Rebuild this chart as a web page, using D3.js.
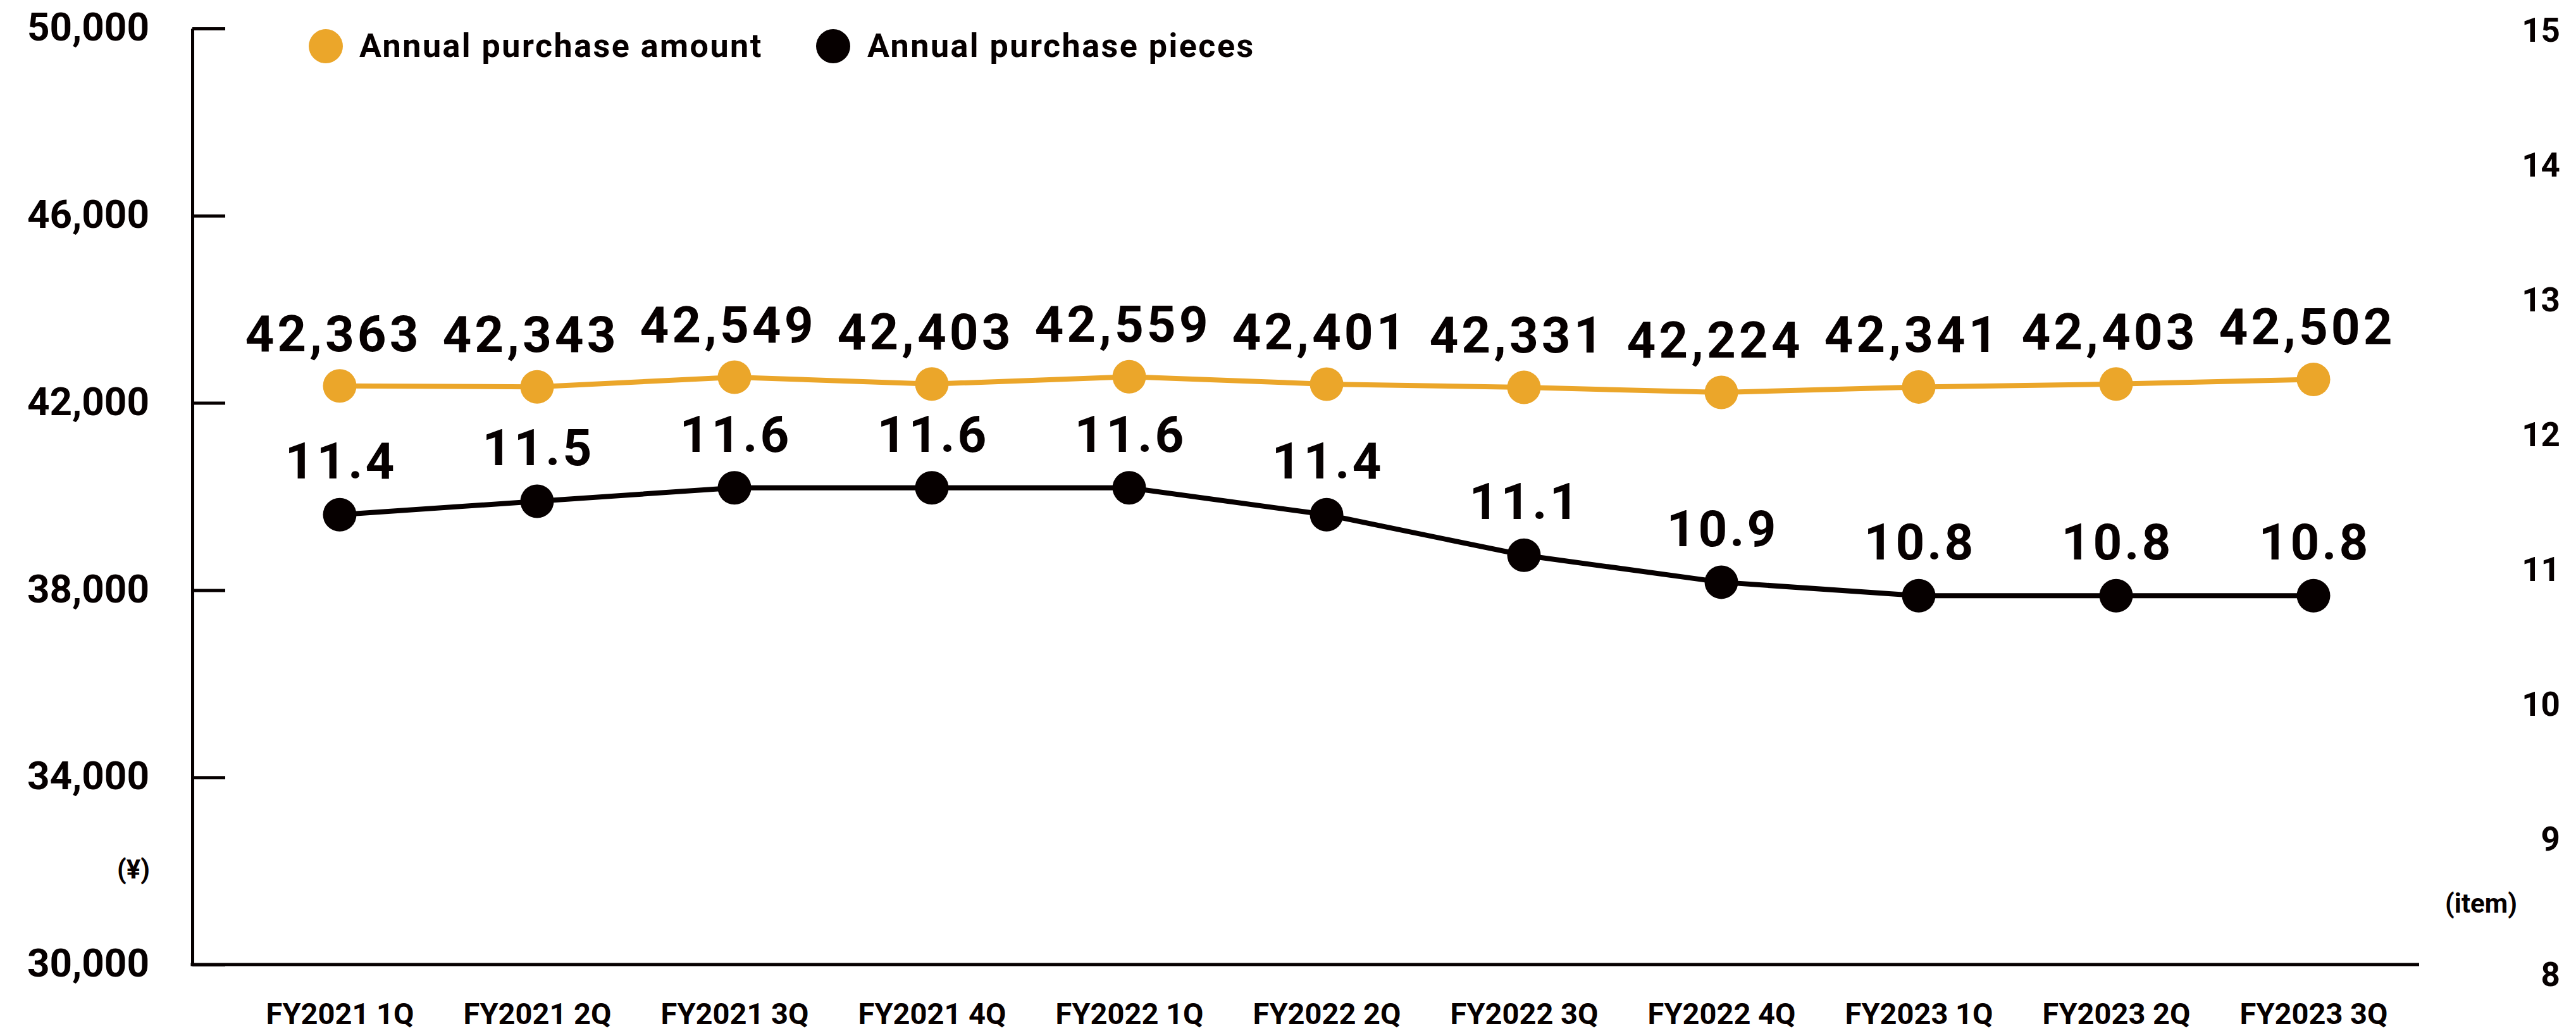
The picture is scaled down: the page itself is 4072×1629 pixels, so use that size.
<!DOCTYPE html>
<html>
<head>
<meta charset="utf-8">
<script src="https://cdn.jsdelivr.net/npm/d3@7"></script>
<style>
  html, body { margin: 0; padding: 0; background: #fff; }
  svg { display: block; font-family: Roboto, "Noto Sans", sans-serif; font-weight: 700; }
</style>
</head>
<body>
<svg id="chart" width="4072" height="1629"></svg>
<script>
const categories = ["FY2021 1Q","FY2021 2Q","FY2021 3Q","FY2021 4Q","FY2022 1Q","FY2022 2Q","FY2022 3Q","FY2022 4Q","FY2023 1Q","FY2023 2Q","FY2023 3Q"];
const purchaseAmount = [42363, 42343, 42549, 42403, 42559, 42401, 42331, 42224, 42341, 42403, 42502];
const purchasePieces = [11.4, 11.5, 11.6, 11.6, 11.6, 11.4, 11.1, 10.9, 10.8, 10.8, 10.8];
const leftTicks = [30000, 34000, 38000, 42000, 46000, 50000];
const rightTicks = [8, 9, 10, 11, 12, 13, 14, 15];
const seriesNames = ["Annual purchase amount", "Annual purchase pieces"];

const ORANGE = "#EBA62A";
const BLACK = "#060000";

const svg = d3.select("#chart");

const x = d3.scalePoint().domain(categories).range([537, 3657]);
const yL = d3.scaleLinear().domain([30000, 50000]).range([1524, 45]);
const yR = d3.scaleLinear().domain([8, 15]).range([1538, 46]);

const axisX0 = 304, axisX1 = 3824;

// left axis
const gL = svg.append("g").attr("transform", `translate(${axisX0},0)`)
  .call(d3.axisLeft(yL).tickValues(leftTicks).tickSizeInner(-52).tickSizeOuter(0).tickPadding(68)
    .tickFormat(d3.format(",")));
gL.selectAll("path.domain").attr("stroke", BLACK).attr("stroke-width", 5);
gL.selectAll(".tick line").attr("stroke", BLACK).attr("stroke-width", 5);
gL.selectAll(".tick text").attr("font-size", 62).attr("font-weight", 700).attr("fill", BLACK)
  .attr("font-family", "Roboto, sans-serif").attr("dy", "0.3em");

// bottom axis line
svg.append("line").attr("x1", axisX0 - 2.5).attr("x2", axisX1).attr("y1", yL(30000)).attr("y2", yL(30000))
  .attr("stroke", BLACK).attr("stroke-width", 5);

// bottom axis labels
const gB = svg.append("g").attr("transform", `translate(0,${yL(30000)})`)
  .call(d3.axisBottom(x).tickSize(0).tickPadding(61));
gB.select("path.domain").remove();
gB.selectAll(".tick text").attr("font-size", 47).attr("font-weight", 700).attr("fill", BLACK)
  .attr("font-family", "Roboto, sans-serif");

// right axis labels
const gR = svg.append("g").attr("transform", `translate(4047,0)`)
  .call(d3.axisRight(yR).tickValues(rightTicks).tickSize(0).tickPadding(0).tickFormat(d3.format("d")));
gR.select("path.domain").remove();
gR.selectAll(".tick text").attr("font-size", 53).attr("font-weight", 700).attr("fill", BLACK)
  .attr("text-anchor", "end").attr("font-family", "Roboto, sans-serif").attr("dy", "0.36em");

// unit labels
svg.append("text").attr("x", 237).attr("y", 1388).attr("text-anchor", "end")
  .attr("font-size", 42).attr("font-weight", 700).attr("fill", BLACK).text("(¥)");
svg.append("text").attr("x", 3922).attr("y", 1442).attr("text-anchor", "middle")
  .attr("font-size", 42).attr("font-weight", 700).attr("fill", BLACK).text("(item)");

// lines
const lineL = d3.line().x((d, i) => x(categories[i])).y(d => yL(d));
const lineR = d3.line().x((d, i) => x(categories[i])).y(d => yR(d));

svg.append("path").datum(purchaseAmount).attr("d", lineL).attr("fill", "none")
  .attr("stroke", ORANGE).attr("stroke-width", 8);
svg.append("path").datum(purchasePieces).attr("d", lineR).attr("fill", "none")
  .attr("stroke", BLACK).attr("stroke-width", 8);

svg.append("g").selectAll("circle").data(purchaseAmount).join("circle")
  .attr("cx", (d, i) => x(categories[i])).attr("cy", d => yL(d)).attr("r", 26.5).attr("fill", ORANGE);
svg.append("g").selectAll("circle").data(purchasePieces).join("circle")
  .attr("cx", (d, i) => x(categories[i])).attr("cy", d => yR(d)).attr("r", 26.5).attr("fill", BLACK);

// value labels
svg.append("g").selectAll("text").data(purchaseAmount).join("text")
  .attr("x", (d, i) => x(categories[i]) - 10).attr("y", d => yL(d) - 55)
  .attr("text-anchor", "middle").attr("font-size", 80).attr("font-weight", 700)
  .attr("letter-spacing", 5).attr("fill", BLACK).text(d => d3.format(",")(d));
svg.append("g").selectAll("text").data(purchasePieces).join("text")
  .attr("x", (d, i) => x(categories[i]) + 2).attr("y", d => yR(d) - 57)
  .attr("text-anchor", "middle").attr("font-size", 80).attr("font-weight", 700)
  .attr("letter-spacing", 4).attr("fill", BLACK).text(d => d3.format(".1f")(d));

// legend
const legend = svg.append("g");
const legendPos = [{cx: 515, tx: 568, color: ORANGE}, {cx: 1317, tx: 1371, color: BLACK}];
legend.selectAll("circle").data(seriesNames).join("circle")
  .attr("cx", (d, i) => legendPos[i].cx).attr("cy", 73).attr("r", 27).attr("fill", (d, i) => legendPos[i].color);
legend.selectAll("text").data(seriesNames).join("text")
  .attr("x", (d, i) => legendPos[i].tx).attr("y", 90)
  .attr("font-size", 52).attr("font-weight", 700).attr("letter-spacing", 2.5).attr("fill", BLACK).text(d => d);
</script>
</body>
</html>
